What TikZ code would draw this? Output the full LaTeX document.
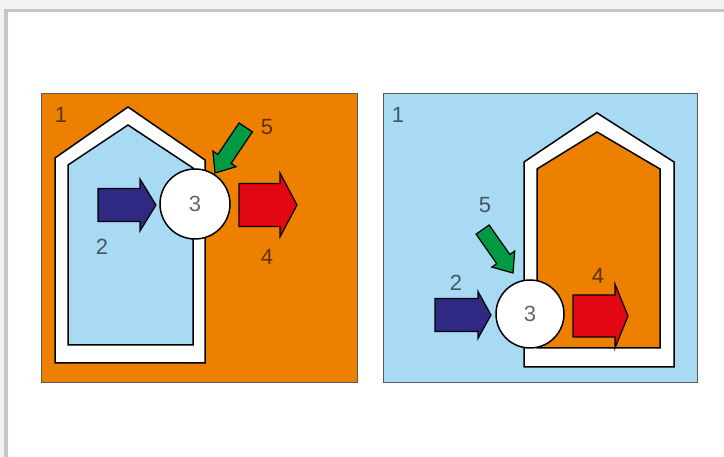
\documentclass[tikz,border=0pt]{standalone}
\usepackage{fontspec}
\setmainfont{Liberation Sans}

\definecolor{orangefeld}{HTML}{EE8000}
\definecolor{blaufeld}{HTML}{A8DAF4}
\definecolor{pfeilblau}{HTML}{302983}
\definecolor{pfeilrot}{HTML}{E30613}
\definecolor{pfeilgruen}{HTML}{009A44}
\definecolor{rahmengrau}{HTML}{C3C7CD}
\definecolor{hintergrund}{HTML}{F2F2F2}

\tikzset{
  linie/.style={draw=black,line width=1.5pt,line join=miter},
  feldrand/.style={draw=black!65,line width=0.8pt},
  pfeilrand/.style={draw=black,line width=1.2pt,line join=miter},
  ziffer/.style={font=\fontsize{22}{24}\selectfont,text=black,text opacity=0.6,inner sep=0pt},
  kreis/.style={circle,draw=black,line width=1.5pt,fill=white,minimum size=#1,inner sep=0pt,
    font=\fontsize{22}{24}\selectfont,text=black,text opacity=0.6}
}

% Blockpfeil: Farbe, Spitze x, Spitze y, Winkel, Laenge, Schaft/2, Kopflaenge, Kopf/2
\newcommand{\pfeil}[8]{%
  \begin{scope}[shift={(#2,#3)},rotate=#4]
    \draw[pfeilrand,fill=#1] (0,0) -- (-#7,#8) -- (-#7,#6) -- (-#5,#6)
      -- (-#5,-#6) -- (-#7,-#6) -- (-#7,-#8) -- cycle;
  \end{scope}}

\begin{document}
\begin{tikzpicture}[x=1pt,y=1pt]
\useasboundingbox (0,0) rectangle (724,457);

% Hintergrund mit Fensterrahmen
\fill[hintergrund] (0,0) rectangle (724,457);
\fill[rahmengrau] (4,0) rectangle (724,448);
\fill[white] (8,0) rectangle (724,445);

% Linkes Feld (aussen warm, innen kalt)
\draw[feldrand,fill=orangefeld] (41,75) rectangle (357,364);
\draw[linie,fill=white] (55,94) -- (55,299) -- (128,350) -- (205,297) -- (205,94) -- cycle;
\draw[linie,fill=blaufeld] (68,112) -- (68,292) -- (128,332) -- (193,289) -- (193,112) -- cycle;

\pfeil{pfeilblau}{156}{252}{0}{58}{16.5}{16}{26}
\pfeil{pfeilrot}{297}{252}{0}{58}{21.5}{17}{32}
\pfeil{pfeilgruen}{215}{284}{236}{55}{8}{17}{14}
\node[kreis=70pt] (k3l) at (195,253) {3};

\node[ziffer] (l1) at (61,342) {1};
\node[ziffer] (l2) at (102,210) {2};
\node[ziffer] (l4) at (267,200) {4};
\node[ziffer] (l5) at (267,330) {5};

% Rechtes Feld (aussen kalt, innen warm)
\draw[feldrand,fill=blaufeld] (383,75) rectangle (697,364);
\draw[linie,fill=white] (524,90) -- (524,295) -- (597,344) -- (674,295) -- (674,90) -- cycle;
\draw[linie,fill=orangefeld] (537,109) -- (537,288) -- (597,325) -- (660,288) -- (660,109) -- cycle;

\pfeil{pfeilblau}{491}{142}{0}{56}{16.5}{13}{23.5}
\pfeil{pfeilrot}{628}{141}{0}{55}{21}{13}{32}
\pfeil{pfeilgruen}{513}{184}{-55}{53}{8}{17}{14}
\node[kreis=68pt] (k3r) at (530,143) {3};

\node[ziffer] (r1) at (398,342) {1};
\node[ziffer] (r2) at (456,174) {2};
\node[ziffer] (r4) at (598,181) {4};
\node[ziffer] (r5) at (485,252) {5};

\end{tikzpicture}
\end{document}
